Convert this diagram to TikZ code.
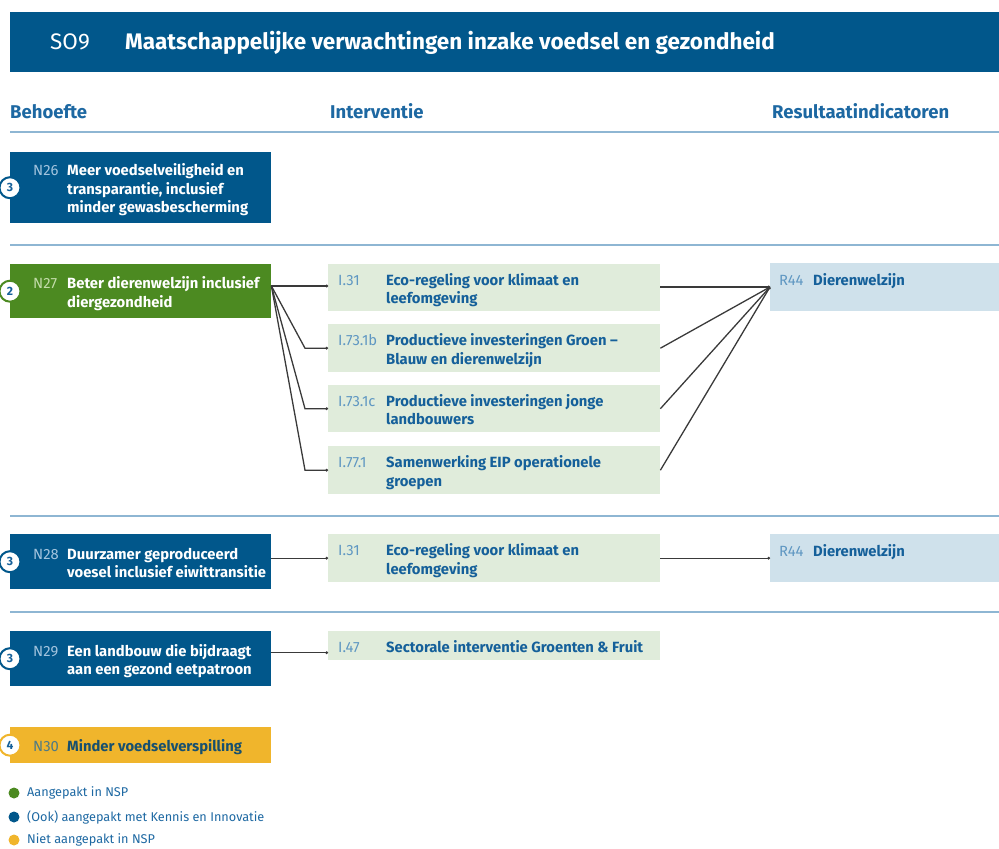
\documentclass[tikz,border=0pt]{standalone}
\usepackage{fontspec}
\setmainfont{Fira Sans}
\usetikzlibrary{arrows.meta,calc}

\definecolor{roblue}{HTML}{01578B}
\definecolor{rogreen}{HTML}{4C8A21}
\definecolor{royellow}{HTML}{F0B52C}
\definecolor{hdrblue}{HTML}{1D68A2}
\definecolor{sepblue}{HTML}{8EB6D3}
\definecolor{ivgreen}{HTML}{E0ECDB}
\definecolor{resblue}{HTML}{CFE1EB}
\definecolor{idpale}{HTML}{A3C4DE}
\definecolor{idgreen}{HTML}{C3DCAA}
\definecolor{idmid}{HTML}{5F97C2}
\definecolor{idyellow}{HTML}{4E7A85}
\definecolor{txtblue}{HTML}{15609A}
\definecolor{txtdark}{HTML}{17506F}
\definecolor{wire}{HTML}{3A3A3A}

% id label in a fixed-width slot, followed by the (multi-line) title
\newcommand\boxline[4]{\makebox[#1][l]{\textcolor{#2}{\mdseries #3}}\begin{tabular}[t]{@{}l@{}}#4\end{tabular}}

\begin{document}
\begin{tikzpicture}[x=1pt,y=-1pt,
  plate/.style={fill=#1, anchor=north west, inner sep=0pt, minimum width=261pt},
  ivplate/.style={fill=ivgreen, anchor=north west, inner sep=0pt, minimum width=332pt},
  resplate/.style={fill=resblue, anchor=north west, inner sep=0pt, minimum width=229pt},
  boxtext/.style={anchor=west, inner sep=0pt, yshift=-3pt, font=\fontsize{14.8}{18.5}\selectfont\bfseries, text=#1},
  badge/.style={circle, fill=white, draw=#1, line width=2pt, minimum size=21pt, inner sep=0pt,
    text=txtblue, font=\fontsize{12}{12}\selectfont\bfseries},
  colhead/.style={anchor=base west, inner sep=0pt, text=hdrblue, font=\fontsize{18.5}{20}\selectfont\bfseries},
  sepline/.style={draw=sepblue, line width=2.2pt},
  wireline/.style={draw=wire, line width=1.3pt, -{Circle[length=2.6pt]}},
  legdot/.style={circle, fill=#1, minimum size=11pt, inner sep=0pt},
  legtext/.style={anchor=west, inner sep=0pt, text=hdrblue, font=\fontsize{12.7}{14}\selectfont},
]
\useasboundingbox (0,0) rectangle (999,849);

% heading bar
\node[fill=roblue, anchor=north west, inner sep=0pt, minimum width=989pt, minimum height=60pt] (bar) at (10,12) {};
\node[anchor=west, inner sep=0pt, text=white, font=\fontsize{22.5}{26}\selectfont] (so) at ($(bar.west)+(40,0)$) {SO9};
\node[anchor=base west, inner sep=0pt, text=white, font=\fontsize{22.5}{26}\selectfont\bfseries] (title) at ($(so.base west)+(75,0)$) {Maatschappelijke verwachtingen inzake voedsel en gezondheid};

% column headings
\node[colhead] (hneed) at (10,118) {Behoefte};
\node[colhead] (hint) at (330,118) {Interventie};
\node[colhead] (hres) at (772,118) {Resultaatindicatoren};

% row separators
\draw[sepline] (10,132) -- (999,132);
\draw[sepline] (10,245) -- (999,245);
\draw[sepline] (10,516) -- (999,516);
\draw[sepline] (10,612) -- (999,612);

% needs
\node[plate=roblue, minimum height=71pt] (n26) at (10,152) {};
\node[boxtext=white] (n26t) at ($(n26.west)+(23,0)$) {\boxline{34pt}{idpale}{N26}{Meer voedselveiligheid en\\transparantie, inclusief\\minder gewasbescherming}};
\node[badge=roblue] (n26c) at (n26.west) {3};

\node[plate=rogreen, minimum height=54pt] (n27) at (10,264) {};
\node[boxtext=white] (n27t) at ($(n27.west)+(23,0)$) {\boxline{34pt}{idgreen}{N27}{Beter dierenwelzijn inclusief\\diergezondheid}};
\node[badge=rogreen] (n27c) at (n27.west) {2};

\node[plate=roblue, minimum height=55pt] (n28) at (10,534) {};
\node[boxtext=white] (n28t) at ($(n28.west)+(23,0)$) {\boxline{34pt}{idpale}{N28}{Duurzamer geproduceerd\\voesel inclusief eiwittransitie}};
\node[badge=roblue] (n28c) at (n28.west) {3};

\node[plate=roblue, minimum height=55pt] (n29) at (10,631) {};
\node[boxtext=white] (n29t) at ($(n29.west)+(23,0)$) {\boxline{34pt}{idpale}{N29}{Een landbouw die bijdraagt\\aan een gezond eetpatroon}};
\node[badge=roblue] (n29c) at (n29.west) {3};

\node[plate=royellow, minimum height=36pt] (n30) at (10,727) {};
\node[boxtext=txtdark] (n30t) at ($(n30.west)+(23,0)$) {\boxline{34pt}{idyellow}{N30}{Minder voedselverspilling}};
\node[badge=royellow] (n30c) at (n30.west) {4};

% interventions
\node[ivplate, minimum height=47pt] (i1) at (328,264) {};
\node[boxtext=txtblue] (i1t) at ($(i1.west)+(10,0)$) {\boxline{48pt}{idmid}{I.31}{Eco-regeling voor klimaat en\\leefomgeving}};
\node[ivplate, minimum height=48pt] (i2) at (328,324) {};
\node[boxtext=txtblue] (i2t) at ($(i2.west)+(10,0)$) {\boxline{48pt}{idmid}{I.73.1b}{Productieve investeringen Groen --\\Blauw en dierenwelzijn}};
\node[ivplate, minimum height=47pt] (i3) at (328,385) {};
\node[boxtext=txtblue] (i3t) at ($(i3.west)+(10,0)$) {\boxline{48pt}{idmid}{I.73.1c}{Productieve investeringen jonge\\landbouwers}};
\node[ivplate, minimum height=48pt] (i4) at (328,446) {};
\node[boxtext=txtblue] (i4t) at ($(i4.west)+(10,0)$) {\boxline{48pt}{idmid}{I.77.1}{Samenwerking EIP operationele\\groepen}};
\node[ivplate, minimum height=48pt] (i5) at (328,534) {};
\node[boxtext=txtblue] (i5t) at ($(i5.west)+(10,0)$) {\boxline{48pt}{idmid}{I.31}{Eco-regeling voor klimaat en\\leefomgeving}};
\node[ivplate, minimum height=29pt] (i6) at (328,631) {};
\node[boxtext=txtblue] (i6t) at ($(i6.west)+(10,0)$) {\boxline{48pt}{idmid}{I.47}{Sectorale interventie Groenten \& Fruit}};

% result indicators
\node[resplate, minimum height=48pt] (r1) at (770,263) {};
\node[boxtext=txtblue, anchor=base west] (r1t) at ($(r1.north west)+(9,19)$) {\boxline{34pt}{idmid}{R44}{Dierenwelzijn}};
\node[resplate, minimum height=48pt] (r2) at (770,534) {};
\node[boxtext=txtblue, anchor=base west] (r2t) at ($(r2.north west)+(9,19)$) {\boxline{34pt}{idmid}{R44}{Dierenwelzijn}};

% connectors: need -> intervention
\coordinate (n27o) at ($(n27.north east)+(0,22)$);
\coordinate (r1i) at ($(r1.north west)+(0,24)$);
\draw[wireline] (n27o) -- (n27o -| i1.west);
\draw[wireline] (n27o) -- ([xshift=-23pt]i2.west) -- (i2.west);
\draw[wireline] (n27o) -- ([xshift=-23pt]i3.west) -- (i3.west);
\draw[wireline] (n27o) -- ([xshift=-23pt]i4.west) -- (i4.west);
\draw[wireline] (i5.west -| n28.east) -- (i5.west);
\draw[wireline] ([yshift=6pt]n29.east) coordinate (n29o) -- (n29o -| i6.west);

% connectors: intervention -> result
\draw[wireline] (i1.east |- r1i) -- (r1i);
\draw[wireline] (i2.east) -- (r1i);
\draw[wireline] (i3.east) -- (r1i);
\draw[wireline] (i4.east) -- (r1i);
\draw[wireline] (i5.east) -- (i5.east -| r2.west);

% legend
\node[legdot=rogreen] (d1) at (14,793) {};
\node[legtext] (l1) at (27,793) {Aangepakt in NSP};
\node[legdot=roblue] (d2) at (14,817) {};
\node[legtext] (l2) at (27,817) {(Ook) aangepakt met Kennis en Innovatie};
\node[legdot=royellow] (d3) at (14,840) {};
\node[legtext] (l3) at (27,840) {Niet aangepakt in NSP};
\end{tikzpicture}
\end{document}
